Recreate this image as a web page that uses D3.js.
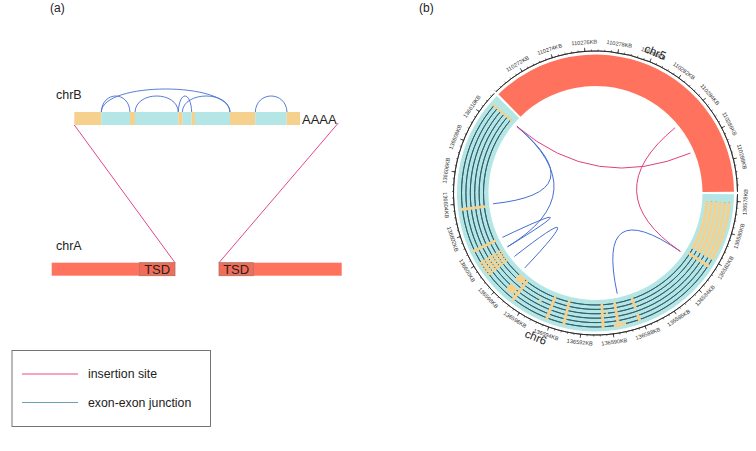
<!DOCTYPE html>
<html>
<head>
<meta charset="utf-8">
<style>
    html, body { margin: 0; padding: 0; background: #fff; }
    svg { display: block; }
    text { font-family: "Liberation Sans", Arial, sans-serif; fill: #222; }
</style>
</head>
<body>
<div class="chart"></div>
<script src="https://d3js.org/d3.v7.min.js"></script>
<script>
    // panel (a): lengths along chrB, and junction arcs as [from, to, height]
    const chrBSegments = [27, 28.7, 5, 43.3, 4, 9.4, 3.3, 35, 25.3, 31.4, 13.3];
    const chrBTypes = ["utr", "exon", "utr", "exon", "utr", "exon", "utr", "exon", "utr", "exon", "utr"];
    const chrBJunctions = [
        [27, 55.7, 16], [60.7, 104, 16], [27, 155.7, 23],
        [104, 117.4, 16], [108, 155.7, 16], [181, 212.7, 16]
    ];
    const chrALeft = [0, 123.3];
    const chrARight = [167.3, 290];
    const tsdLength = [35.7, 34.3];

    // panel (b): genome ranges in KB
    const chr5Range = [110270, 110290];
    const chr6Range = [136577.55, 136611.44];
    const chr5Labels = [110272, 110274, 110276, 110278, 110280, 110282, 110284, 110286, 110288];
    const chr6Labels = [136578, 136580, 136582, 136584, 136586, 136588, 136590, 136592, 136594,
        136596, 136598, 136600, 136602, 136604, 136606, 136608, 136610];

    // chr6 exons: [start KB, end KB, first track, last track]
    const chr6Exons = [
        [136578.1, 136582.0, 0, 0], [136578.1, 136582.0, 1, 1], [136578.1, 136582.0, 2, 2],
        [136578.1, 136582.0, 3, 3], [136578.1, 136582.0, 4, 4], [136578.1, 136582.0, 5, 5],
        [136582.35, 136582.55, 0, 5],
        [136588.1, 136588.3, 0, 2], [136588.1, 136588.3, 4, 5],
        [136589.5, 136589.7, 0, 5], [136589.1, 136589.9, 5, 5],
        [136590.2, 136590.35, 2, 2], [136590.5, 136590.7, 0, 5],
        [136593.05, 136593.25, 0, 5], [136594.2, 136594.4, 0, 5],
        [136595.1, 136595.3, 2, 2],
        [136596.7, 136596.9, 0, 5],
        [136597.0, 136597.6, 0, 1], [136597.0, 136597.6, 3, 4],
        [136599.0, 136599.15, 0, 5], [136599.22, 136599.37, 0, 5], [136599.44, 136599.59, 0, 5],
        [136599.66, 136599.81, 0, 5], [136599.88, 136600.03, 0, 5],
        [136600.75, 136600.95, 0, 5], [136603.55, 136603.75, 0, 5], [136610.8, 136610.95, 0, 5]
    ];
    const trackIds = [0, 1, 2, 3, 4, 5];

    // links: [chrom, KB, chrom, KB]
    const insertionLinks = [
        ["chr6", 136610.8, "chr5", 110286.67],
        ["chr5", 110284.2, "chr6", 136582.7]
    ];
    const junctionLinks = [
        ["chr6", 136589.25, "chr6", 136582.7],
        ["chr6", 136610.8, "chr6", 136603.8],
        ["chr6", 136610.8, "chr6", 136599.95],
        ["chr6", 136600.85, "chr6", 136599.95],
        ["chr6", 136598.95, "chr6", 136597.65]
    ];

    const legendLabels = ["insertion site", "exon-exon junction"];

    const salmon = "#ff735e";
    const teal = "#b3e6e4";
    const sand = "#f6d18e";
    const pink = "#e0407f";
    const blue = "#4470d2";

    const svg = d3.select(".chart").append("svg").attr("width", 756).attr("height", 451);

    // ---------- panel (a)
    svg.append("text").attr("x", 50).attr("y", 12).style("font-size", "12px").text("(a)");
    svg.append("text").attr("x", 419).attr("y", 12).style("font-size", "12px").text("(b)");

    let a = svg.append("g");
    let xB = d3.scaleLinear().domain([0, 226]).range([74.3, 300.3]);
    let xA = d3.scaleLinear().domain([0, 290]).range([51.7, 341.7]);
    let barB = {top: 112, bottom: 125};
    let barA = {top: 262.7, bottom: 275.7};

    let offsets = d3.cumsum(chrBSegments);
    a.selectAll("rect.seg")
        .data(chrBSegments)
        .join("rect")
        .attr("class", "seg")
        .attr("x", (d, i) => xB(offsets[i] - d))
        .attr("y", barB.top)
        .attr("width", d => xB(d) - xB(0))
        .attr("height", barB.bottom - barB.top)
        .attr("fill", (d, i) => chrBTypes[i] === "utr" ? sand : teal);

    a.selectAll("path.junction")
        .data(chrBJunctions)
        .join("path")
        .attr("class", "junction")
        .attr("fill", "none")
        .attr("stroke", blue)
        .attr("stroke-width", 0.9)
        .attr("d", d => {
            let x0 = xB(d[0]), x1 = xB(d[1]), k = d[2] * 4 / 3;
            return `M${x0},${barB.top}C${x0 + 1},${barB.top - k} ${x1 - 1},${barB.top - k} ${x1},${barB.top}`;
        });

    a.append("text").attr("x", 56).attr("y", 98.7).style("font-size", "12.5px").text("chrB");
    a.append("text").attr("x", 56).attr("y", 250).style("font-size", "12.5px").text("chrA");
    a.append("text").attr("x", 302).attr("y", 123.7).style("font-size", "13px").text("AAAA");

    [chrALeft, chrARight].forEach((r, i) => {
        a.append("rect")
            .attr("x", xA(r[0])).attr("y", barA.top)
            .attr("width", xA(r[1]) - xA(r[0])).attr("height", barA.bottom - barA.top)
            .attr("fill", salmon);
        let boxStart = i === 0 ? r[1] - tsdLength[0] : r[0];
        a.append("rect")
            .attr("x", xA(boxStart)).attr("y", barA.top)
            .attr("width", xA(tsdLength[i]) - xA(0)).attr("height", barA.bottom - barA.top)
            .attr("fill", "#f26c58")
            .attr("stroke", "#a8786e")
            .attr("stroke-width", 0.8);
        a.append("text")
            .attr("x", xA(boxStart + tsdLength[i] / 2))
            .attr("y", barA.bottom - 2)
            .attr("text-anchor", "middle")
            .style("font-size", "13px")
            .text("TSD");
    });

    // insertion lines from the ends of chrB down to the TSD
    [[0, chrALeft[1]], [226 + 38 / 1, chrARight[0]]].forEach((d, i) => {
        a.append("line")
            .attr("x1", xB(d[0])).attr("y1", i === 0 ? barB.bottom : barB.bottom - 2)
            .attr("x2", xA(d[1])).attr("y2", barA.top)
            .attr("stroke", "#e2468f")
            .attr("stroke-width", 1);
    });

    // ---------- legend
    let legend = svg.append("g");
    legend.append("rect")
        .attr("x", 12).attr("y", 350.5).attr("width", 198.5).attr("height", 76)
        .attr("fill", "none").attr("stroke", "#666").attr("stroke-width", 0.9);
    let legendY = d3.scalePoint().domain(legendLabels).range([374, 402.5]);
    legend.selectAll("line")
        .data(legendLabels)
        .join("line")
        .attr("x1", 22).attr("x2", 78)
        .attr("y1", d => legendY(d)).attr("y2", d => legendY(d))
        .attr("stroke", (d, i) => i === 0 ? "#ee4a78" : "#6d9fb2")
        .attr("stroke-width", 1);
    legend.selectAll("text")
        .data(legendLabels)
        .join("text")
        .attr("x", 88)
        .attr("y", d => legendY(d) + 4.2)
        .style("font-size", "12.3px")
        .text(d => d);

    // ---------- panel (b)
    const cx = 595.5, cy = 193;
    const rIn = 107, rOut = 138.5, rAxis = 142, rLink = 103;
    const toRad = d => d * Math.PI / 180;

    let angle = {
        chr5: d3.scaleLinear().domain(chr5Range).range([-44.5, 89.5]),
        chr6: d3.scaleLinear().domain(chr6Range).range([90.5, 314.5])
    };

    let b = svg.append("g").attr("transform", `translate(${cx},${cy})`);
    let arc = d3.arc();
    let trackR = d3.scaleLinear().domain([0, 5]).range([112, 134]);

    const sector = (a0, a1, r0, r1) => arc({
        startAngle: toRad(a0), endAngle: toRad(a1), innerRadius: r0, outerRadius: r1
    });

    b.append("path").attr("d", sector(-44.5, 89.5, rIn, rOut)).attr("fill", salmon);
    b.append("path").attr("d", sector(90.5, 314.5, rIn, rOut)).attr("fill", teal);

    // transcript tracks on chr6
    b.selectAll("path.track")
        .data(trackIds)
        .join("path")
        .attr("class", "track")
        .attr("fill", "none")
        .attr("stroke", "#2f5b6c")
        .attr("stroke-width", 0.9)
        .attr("d", d => sector(angle.chr6(136578.1), angle.chr6(136610.9), trackR(d), trackR(d)));

    b.selectAll("path.exon")
        .data(chr6Exons)
        .join("path")
        .attr("class", "exon")
        .attr("fill", sand)
        .attr("d", d => sector(angle.chr6(d[0]), angle.chr6(d[1]), trackR(d[2]) - 1.6, trackR(d[3]) + 1.6));

    // links, quadratic with the control point at the centre
    const linkPath = d => {
        let a0 = toRad(angle[d[0]](d[1]) - 90), a1 = toRad(angle[d[2]](d[3]) - 90);
        let p = d3.path();
        p.moveTo(rLink * Math.cos(a0), rLink * Math.sin(a0));
        p.quadraticCurveTo(0, 0, rLink * Math.cos(a1), rLink * Math.sin(a1));
        return p.toString();
    };
    b.selectAll("path.junctionLink")
        .data(junctionLinks)
        .join("path")
        .attr("class", "junctionLink")
        .attr("fill", "none").attr("stroke", blue).attr("stroke-width", 1)
        .attr("d", linkPath);
    b.selectAll("path.insertionLink")
        .data(insertionLinks)
        .join("path")
        .attr("class", "insertionLink")
        .attr("fill", "none").attr("stroke", pink).attr("stroke-width", 1)
        .attr("d", linkPath);

    // genome axes
    const polar = (deg, r) => [r * Math.sin(toRad(deg)), -r * Math.cos(toRad(deg))];

    function drawAxis(chrom, labels) {
        let scale = angle[chrom];
        let dom = scale.domain();
        let g = b.append("g");
        g.append("path")
            .attr("d", sector(scale.range()[0], scale.range()[1], rAxis, rAxis))
            .attr("fill", "none").attr("stroke", "#222").attr("stroke-width", 0.8);

        // five minor steps per 2 KB label step
        let first = labels[0] - 2 * Math.floor((labels[0] - dom[0]) / 2);
        let minor = d3.range(first, dom[1], 0.4);
        g.selectAll("line.minor")
            .data(minor)
            .join("line")
            .attr("class", "minor")
            .attr("x1", d => polar(scale(d), rAxis)[0]).attr("y1", d => polar(scale(d), rAxis)[1])
            .attr("x2", d => polar(scale(d), rAxis + 1.6)[0]).attr("y2", d => polar(scale(d), rAxis + 1.6)[1])
            .attr("stroke", "#222").attr("stroke-width", 0.6);
        g.selectAll("line.major")
            .data(labels)
            .join("line")
            .attr("class", "major")
            .attr("x1", d => polar(scale(d), rAxis)[0]).attr("y1", d => polar(scale(d), rAxis)[1])
            .attr("x2", d => polar(scale(d), rAxis + 3.6)[0]).attr("y2", d => polar(scale(d), rAxis + 3.6)[1])
            .attr("stroke", "#222").attr("stroke-width", 0.8);
        g.selectAll("text")
            .data(labels)
            .join("text")
            .attr("text-anchor", "middle")
            .attr("dominant-baseline", "middle")
            .attr("transform", d => {
                let deg = scale(d), p = polar(deg, rAxis + 8.5);
                let rot = deg > 90 && deg < 270 ? deg - 180 : deg;
                return `translate(${p[0]},${p[1]}) rotate(${rot})`;
            })
            .style("font-size", "5.6px")
            .style("fill", "#333")
            .text(d => d + "KB");
    }
    drawAxis("chr5", chr5Labels);
    drawAxis("chr6", chr6Labels);

    b.append("text")
        .attr("text-anchor", "middle").attr("dominant-baseline", "middle")
        .attr("transform", () => {
            let p = polar(23, 152);
            return `translate(${p[0]},${p[1]}) rotate(23)`;
        })
        .style("font-size", "11.5px").text("chr5");
    b.append("text")
        .attr("text-anchor", "middle").attr("dominant-baseline", "middle")
        .attr("transform", () => {
            let p = polar(202.5, 157);
            return `translate(${p[0]},${p[1]}) rotate(22)`;
        })
        .style("font-size", "11.5px").text("chr6");
</script>
</body>
</html>
